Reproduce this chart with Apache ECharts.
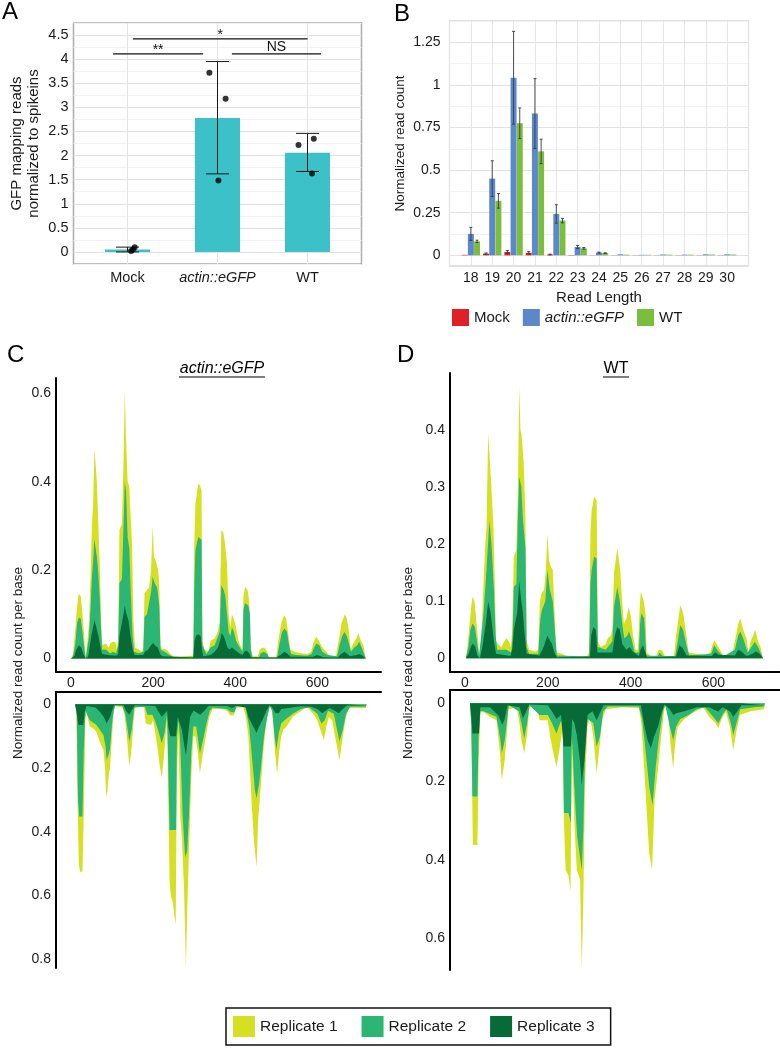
<!DOCTYPE html>
<html><head><meta charset="utf-8">
<script src="https://cdn.jsdelivr.net/npm/echarts@6/dist/echarts.min.js"></script>
<style>html,body{margin:0;padding:0;background:#fff}#c{width:780px;height:1048px}</style>
</head><body><div id="c"></div>
<script>
// ---------------- Panel A data ----------------
const aCategories = ['Mock', 'actin::eGFP', 'WT'];
const aMeans = [0.05, 2.78, 2.06];
const aErrLow = [0.0, 1.62, 1.67];
const aErrHigh = [0.10, 3.95, 2.46];
const aPointX = [0.04, 0.06, 0.08, 0.91, 1.09, 1.01, 1.90, 2.07, 2.05];
const aPointY = [0.02, 0.05, 0.10, 3.72, 3.18, 1.48, 2.22, 2.35, 1.63];
const aSigFrom = [0.06, -0.16, 1.16];
const aSigTo = [2.0, 0.84, 2.15];
const aSigY = [4.42, 4.11, 4.11];
const aSigLabel = ['*', '**', 'NS'];

// ---------------- Panel B data ----------------
const bLengths = [18, 19, 20, 21, 22, 23, 24, 25, 26, 27, 28, 29, 30];
const bGroups = ['Mock', 'actin::eGFP', 'WT'];
const bMock = [0.003, 0.01, 0.02, 0.015, 0.005, 0.002, 0.001, 0.001, 0.001, 0.001, 0.001, 0.001, 0.001];
const bMockSd = [0.001, 0.004, 0.009, 0.007, 0.002, 0, 0, 0, 0, 0, 0, 0, 0];
const bActin = [0.126, 0.45, 1.042, 0.832, 0.243, 0.049, 0.016, 0.006, 0.003, 0.005, 0.004, 0.006, 0.006];
const bActinSd = [0.038, 0.105, 0.272, 0.205, 0.054, 0.009, 0.003, 0.001, 0.001, 0.001, 0.001, 0.001, 0.001];
const bWt = [0.082, 0.32, 0.775, 0.61, 0.204, 0.041, 0.013, 0.004, 0.003, 0.004, 0.004, 0.005, 0.005];
const bWtSd = [0.007, 0.043, 0.09, 0.072, 0.013, 0.005, 0.002, 0.001, 0.001, 0.001, 0.001, 0.001, 0.001];

// ---------------- Panel C (actin::eGFP) coverage: [position, value] ----------------
const cSenseRep1 = [[0,0],[5,0.01],[10,0.06],[15,0.12],[19,0.147],[24,0.14],[28,0.10],[33,0.04],[36,0],[40,0],[44,0.08],[48,0.20],[51,0.30],[54,0.35],[57,0.475],[60,0.44],[63,0.40],[66,0.32],[70,0.215],[73,0.10],[76,0.03],[80,0.03],[85,0.034],[92,0.025],[97,0.036],[103,0.038],[108,0.037],[112,0.02],[115,0.05],[118,0.29],[124,0.305],[128,0.45],[131,0.607],[134,0.50],[138,0.40],[142,0.39],[146,0.39],[149,0.25],[152,0.087],[156,0.025],[165,0.02],[172,0.015],[176,0.02],[179,0.147],[185,0.155],[190,0.16],[195,0.20],[199,0.30],[202,0.23],[207,0.22],[212,0.20],[215,0.17],[218,0.03],[222,0.02],[228,0.022],[235,0.018],[242,0.01],[250,0.005],[270,0.005],[290,0.006],[298,0.006],[300,0.25],[303,0.35],[310,0.396],[315,0.39],[318,0.38],[320,0.04],[325,0.02],[335,0.015],[340,0.04],[350,0.045],[357,0.06],[362,0.08],[366,0.29],[371,0.285],[375,0.26],[380,0.215],[384,0.10],[388,0.07],[392,0.10],[396,0.09],[400,0.08],[404,0.06],[408,0.04],[412,0.03],[418,0.02],[420,0.14],[424,0.162],[430,0.155],[434,0.13],[437,0.03],[442,0.005],[455,0.005],[460,0.02],[465,0.024],[472,0.024],[478,0.015],[482,0.003],[500,0.002],[505,0.04],[512,0.08],[519,0.098],[524,0.09],[530,0.05],[534,0.02],[545,0.015],[560,0.012],[575,0.01],[585,0.015],[590,0.035],[597,0.049],[604,0.04],[612,0.025],[622,0.015],[630,0.005],[645,0.005],[652,0.04],[659,0.08],[667,0.10],[672,0.09],[677,0.06],[681,0.02],[688,0.035],[695,0.045],[700,0.057],[706,0.04],[712,0.03],[718,0]];
const cSenseRep2 = [[0,0],[5,0.005],[10,0.03],[15,0.08],[19,0.093],[24,0.09],[28,0.06],[33,0.02],[36,0],[40,0],[44,0.05],[48,0.12],[51,0.185],[54,0.22],[57,0.27],[60,0.25],[63,0.23],[66,0.20],[70,0.14],[73,0.07],[76,0.02],[85,0.02],[95,0.012],[103,0.015],[110,0.012],[115,0.03],[118,0.17],[124,0.18],[128,0.30],[131,0.40],[134,0.38],[138,0.275],[142,0.25],[146,0.14],[150,0.05],[154,0.015],[165,0.012],[176,0.015],[179,0.094],[185,0.10],[190,0.125],[195,0.15],[199,0.185],[204,0.17],[210,0.16],[215,0.12],[218,0.02],[228,0.015],[240,0.008],[250,0.003],[298,0.004],[300,0.15],[303,0.245],[310,0.275],[318,0.268],[320,0.03],[330,0.01],[340,0.025],[350,0.03],[358,0.05],[362,0.06],[366,0.166],[372,0.155],[376,0.14],[380,0.10],[384,0.06],[388,0.05],[392,0.07],[397,0.06],[402,0.04],[408,0.03],[414,0.02],[418,0.015],[420,0.11],[424,0.125],[432,0.12],[436,0.10],[438,0.02],[442,0.003],[458,0.003],[462,0.012],[470,0.015],[478,0.01],[482,0.002],[502,0.002],[507,0.03],[514,0.06],[520,0.068],[526,0.06],[532,0.025],[536,0.01],[550,0.008],[575,0.006],[586,0.01],[592,0.025],[598,0.034],[605,0.03],[612,0.015],[625,0.008],[648,0.005],[654,0.03],[660,0.05],[666,0.06],[672,0.05],[678,0.03],[682,0.015],[690,0.025],[697,0.03],[702,0.038],[708,0.025],[718,0]];
const cSenseRep3 = [[0,0],[8,0.005],[13,0.02],[19,0.03],[25,0.025],[30,0.01],[36,0],[42,0.005],[46,0.03],[50,0.053],[55,0.075],[57,0.087],[62,0.07],[67,0.05],[72,0.025],[76,0.01],[90,0.008],[110,0.006],[115,0.01],[118,0.05],[124,0.08],[128,0.10],[131,0.12],[135,0.10],[140,0.087],[145,0.05],[150,0.02],[155,0.008],[176,0.008],[180,0.015],[188,0.02],[195,0.03],[200,0.035],[206,0.028],[212,0.025],[217,0.01],[222,0.005],[298,0.002],[301,0.04],[305,0.052],[310,0.055],[316,0.05],[319,0.02],[322,0.005],[340,0.008],[350,0.015],[358,0.025],[363,0.04],[367,0.057],[372,0.05],[376,0.04],[381,0.025],[386,0.02],[392,0.025],[398,0.02],[405,0.015],[412,0.01],[418,0.008],[422,0.015],[428,0.018],[434,0.012],[438,0.003],[500,0.002],[510,0.008],[520,0.015],[528,0.01],[535,0.004],[590,0.004],[598,0.008],[605,0.006],[615,0.003],[650,0.002],[658,0.01],[666,0.015],[673,0.01],[680,0.005],[695,0.008],[703,0.01],[710,0.006],[718,0]];
const cAntiRep1 = [[10,0],[13,0.02],[16,0.30],[19,0.50],[22,0.525],[28,0.525],[31,0.35],[35,0.05],[38,0.02],[42,0.05],[46,0.07],[54,0.075],[62,0.086],[70,0.117],[79,0.143],[83,0.2],[86,0.29],[89,0.27],[92,0.22],[95,0.20],[99,0.12],[103,0.04],[106,0.005],[115,0.008],[125,0.01],[130,0.03],[136,0.10],[142,0.195],[147,0.15],[152,0.06],[156,0.01],[170,0.008],[178,0.01],[182,0.06],[195,0.065],[200,0.05],[204,0.08],[210,0.13],[216,0.19],[221,0.232],[226,0.17],[231,0.09],[234,0.05],[237,0.3],[240,0.55],[243,0.60],[248,0.62],[252,0.667],[255,0.69],[258,0.20],[262,0.09],[266,0.35],[270,0.42],[275,0.57],[278,0.72],[280,0.83],[283,0.65],[286,0.52],[290,0.35],[294,0.2],[298,0.10],[303,0.10],[308,0.14],[314,0.216],[320,0.164],[326,0.12],[331,0.08],[337,0.04],[345,0.015],[370,0.015],[380,0.02],[388,0.035],[396,0.035],[402,0.01],[420,0.01],[426,0.04],[432,0.10],[440,0.31],[446,0.436],[452,0.51],[456,0.36],[462,0.26],[468,0.154],[476,0.05],[483,0.01],[488,0.01],[492,0.05],[497,0.154],[502,0.216],[507,0.15],[512,0.10],[517,0.08],[525,0.07],[540,0.039],[558,0.023],[574,0.008],[590,0.03],[600,0.05],[610,0.09],[616,0.112],[622,0.07],[628,0.04],[636,0.05],[643,0.10],[654,0.175],[660,0.12],[668,0.05],[676,0.013],[690,0.012],[718,0.012],[720,0]];
const cAntiRep2 = [[10,0],[14,0.02],[17,0.30],[20,0.352],[28,0.352],[31,0.15],[35,0.02],[38,0.015],[46,0.05],[62,0.065],[79,0.096],[84,0.13],[87,0.175],[91,0.16],[95,0.14],[100,0.06],[104,0.02],[108,0.003],[125,0.005],[132,0.03],[138,0.08],[142,0.117],[148,0.08],[154,0.01],[180,0.008],[186,0.033],[198,0.033],[204,0.05],[212,0.08],[221,0.122],[228,0.09],[234,0.03],[237,0.20],[240,0.394],[256,0.394],[258,0.10],[262,0.05],[266,0.12],[272,0.35],[278,0.48],[283,0.46],[288,0.33],[293,0.15],[298,0.07],[305,0.07],[314,0.154],[322,0.11],[330,0.06],[338,0.02],[345,0.01],[380,0.015],[390,0.025],[398,0.025],[404,0.005],[424,0.005],[428,0.03],[434,0.07],[440,0.154],[448,0.27],[452,0.295],[458,0.25],[462,0.206],[470,0.10],[478,0.04],[484,0.005],[490,0.02],[496,0.10],[500,0.143],[506,0.09],[512,0.06],[520,0.05],[540,0.03],[560,0.015],[580,0.01],[600,0.03],[610,0.06],[618,0.05],[626,0.02],[640,0.03],[648,0.08],[654,0.117],[662,0.08],[670,0.03],[680,0.008],[718,0.008],[720,0]];
const cAntiRep3 = [[10,0],[14,0.03],[18,0.065],[30,0.065],[34,0.02],[38,0.005],[60,0.01],[70,0.023],[80,0.04],[87,0.06],[95,0.04],[100,0.02],[105,0.003],[128,0.003],[134,0.02],[142,0.033],[150,0.015],[156,0.003],[205,0.005],[212,0.02],[221,0.04],[228,0.03],[234,0.02],[237,0.07],[242,0.10],[256,0.10],[260,0.04],[264,0.04],[270,0.08],[276,0.13],[280,0.16],[285,0.10],[290,0.04],[298,0.02],[305,0.025],[315,0.033],[325,0.02],[335,0.005],[380,0.005],[392,0.012],[402,0.005],[426,0.01],[432,0.04],[440,0.06],[446,0.075],[452,0.09],[458,0.07],[466,0.05],[476,0.02],[484,0.003],[490,0.01],[498,0.028],[506,0.028],[512,0.015],[530,0.012],[560,0.006],[585,0.008],[600,0.015],[612,0.028],[620,0.02],[630,0.012],[642,0.02],[652,0.028],[662,0.015],[672,0.004],[718,0.004],[720,0]];

// ---------------- Panel D (WT) coverage: [position, value] ----------------
const dSenseRep1 = [[2,0],[6,0.02],[11,0.06],[15,0.09],[18,0.108],[23,0.10],[28,0.06],[33,0.02],[36,0],[38,0.01],[42,0.08],[45,0.137],[49,0.20],[52,0.23],[56,0.394],[59,0.36],[63,0.31],[66,0.27],[69,0.225],[73,0.10],[75,0.03],[80,0.025],[88,0.02],[95,0.03],[100,0.035],[106,0.03],[111,0.02],[114,0.05],[118,0.178],[124,0.19],[128,0.30],[131,0.476],[134,0.40],[137,0.39],[142,0.34],[146,0.25],[149,0.03],[155,0.015],[170,0.012],[177,0.015],[181,0.10],[185,0.114],[191,0.12],[195,0.15],[199,0.219],[203,0.172],[208,0.16],[212,0.155],[217,0.073],[221,0.01],[235,0.008],[242,0.005],[260,0.002],[295,0.004],[300,0.01],[303,0.22],[306,0.26],[312,0.283],[318,0.277],[321,0.03],[328,0.02],[340,0.025],[345,0.035],[352,0.04],[356,0.05],[360,0.15],[368,0.193],[375,0.155],[380,0.096],[384,0.06],[390,0.07],[395,0.09],[401,0.073],[406,0.04],[412,0.015],[418,0.015],[422,0.09],[425,0.117],[432,0.10],[436,0.08],[439,0.01],[450,0.003],[462,0.005],[468,0.015],[476,0.014],[483,0.004],[505,0.004],[510,0.04],[520,0.093],[527,0.08],[535,0.04],[540,0.01],[560,0.008],[580,0.005],[592,0.01],[602,0.032],[612,0.02],[624,0.005],[645,0.004],[652,0.03],[660,0.06],[665,0.07],[672,0.05],[680,0.035],[685,0.01],[690,0.03],[696,0.04],[701,0.05],[708,0.03],[714,0.02],[720,0]];
const dSenseRep2 = [[2,0],[8,0.02],[13,0.05],[18,0.061],[24,0.055],[29,0.03],[34,0.005],[38,0.005],[45,0.08],[52,0.155],[59,0.242],[64,0.2],[70,0.12],[74,0.04],[78,0.015],[100,0.015],[112,0.01],[115,0.04],[118,0.125],[124,0.13],[128,0.25],[131,0.318],[136,0.30],[140,0.242],[146,0.195],[149,0.02],[155,0.008],[177,0.008],[182,0.07],[186,0.085],[194,0.10],[199,0.155],[205,0.12],[212,0.10],[218,0.04],[222,0.005],[300,0.003],[303,0.13],[306,0.155],[312,0.178],[318,0.175],[321,0.02],[340,0.015],[356,0.03],[360,0.09],[368,0.125],[374,0.10],[380,0.06],[385,0.035],[392,0.04],[396,0.047],[402,0.035],[410,0.01],[420,0.01],[423,0.06],[426,0.079],[433,0.07],[438,0.005],[466,0.004],[470,0.01],[478,0.004],[508,0.004],[514,0.03],[520,0.058],[527,0.05],[536,0.02],[542,0.005],[595,0.008],[602,0.023],[612,0.012],[624,0.003],[652,0.015],[660,0.04],[665,0.047],[672,0.035],[683,0.01],[692,0.02],[700,0.029],[708,0.02],[720,0]];
const dSenseRep3 = [[2,0],[9,0.008],[15,0.022],[19,0.026],[25,0.02],[30,0.005],[36,0],[42,0.02],[50,0.06],[56,0.099],[62,0.08],[65,0.06],[70,0.03],[75,0.008],[110,0.004],[115,0.02],[118,0.05],[126,0.08],[131,0.134],[135,0.108],[140,0.08],[143,0.05],[149,0.008],[180,0.005],[190,0.02],[199,0.04],[206,0.03],[210,0.026],[216,0.01],[222,0.002],[302,0.003],[305,0.04],[310,0.055],[316,0.05],[320,0.01],[356,0.01],[362,0.04],[368,0.055],[374,0.05],[380,0.025],[390,0.015],[398,0.02],[405,0.012],[420,0.004],[424,0.015],[430,0.023],[436,0.01],[440,0.002],[510,0.003],[518,0.023],[526,0.018],[535,0.005],[596,0.004],[604,0.01],[612,0.006],[652,0.005],[660,0.015],[668,0.012],[680,0.004],[695,0.008],[703,0.012],[712,0.008],[720,0]];
const dAntiRep1 = [[12,0],[15,0.05],[17,0.20],[19,0.362],[30,0.362],[33,0.15],[37,0.03],[40,0.02],[48,0.025],[60,0.034],[76,0.043],[84,0.12],[89,0.196],[96,0.145],[101,0.08],[105,0.015],[125,0.01],[130,0.04],[136,0.09],[143,0.128],[150,0.08],[156,0.01],[176,0.01],[180,0.043],[200,0.043],[205,0.08],[212,0.12],[221,0.162],[228,0.12],[236,0.06],[239,0.30],[243,0.425],[250,0.44],[255,0.48],[258,0.10],[261,0.10],[264,0.30],[270,0.425],[278,0.45],[282,0.677],[286,0.50],[290,0.20],[296,0.06],[302,0.034],[310,0.085],[318,0.179],[324,0.12],[332,0.04],[340,0.015],[380,0.01],[420,0.012],[426,0.05],[437,0.238],[445,0.383],[452,0.425],[458,0.247],[466,0.17],[474,0.085],[482,0.01],[490,0.01],[496,0.10],[503,0.166],[508,0.10],[514,0.06],[530,0.04],[550,0.025],[575,0.01],[590,0.034],[605,0.05],[612,0.064],[620,0.04],[630,0.02],[640,0.06],[648,0.12],[656,0.07],[664,0.03],[690,0.02],[722,0.015],[725,0]];
const dAntiRep2 = [[12,0],[15,0.05],[18,0.238],[30,0.238],[33,0.08],[37,0.02],[45,0.02],[76,0.034],[85,0.09],[89,0.128],[96,0.094],[102,0.04],[106,0.005],[130,0.02],[138,0.06],[143,0.09],[150,0.05],[156,0.005],[180,0.03],[200,0.03],[210,0.05],[221,0.077],[230,0.05],[236,0.04],[239,0.28],[250,0.28],[256,0.306],[258,0.08],[262,0.08],[266,0.25],[271,0.34],[282,0.425],[286,0.32],[290,0.12],[296,0.04],[310,0.05],[318,0.11],[326,0.085],[334,0.02],[345,0.008],[420,0.008],[428,0.04],[437,0.128],[445,0.213],[453,0.26],[461,0.16],[469,0.085],[478,0.02],[484,0.005],[495,0.06],[503,0.094],[510,0.06],[520,0.04],[540,0.03],[560,0.015],[580,0.01],[600,0.035],[612,0.051],[622,0.03],[632,0.015],[642,0.05],[648,0.081],[656,0.05],[665,0.015],[700,0.01],[722,0.008],[725,0]];
const dAntiRep3 = [[12,0],[15,0.03],[18,0.077],[34,0.077],[37,0.01],[60,0.01],[80,0.03],[90,0.055],[96,0.04],[103,0.005],[132,0.01],[140,0.038],[148,0.02],[155,0.003],[200,0.005],[210,0.02],[221,0.04],[232,0.03],[238,0.11],[256,0.11],[259,0.04],[264,0.05],[270,0.08],[278,0.15],[282,0.208],[290,0.13],[296,0.03],[308,0.02],[318,0.043],[326,0.025],[335,0.005],[425,0.005],[432,0.05],[441,0.094],[449,0.115],[457,0.085],[466,0.06],[476,0.02],[482,0.003],[495,0.015],[503,0.03],[512,0.025],[530,0.02],[560,0.01],[590,0.01],[604,0.018],[612,0.021],[622,0.01],[640,0.02],[648,0.034],[658,0.02],[668,0.005],[722,0.005],[725,0]];

const replicateNames = ['Replicate 1', 'Replicate 2', 'Replicate 3'];
const cTicksX = [0, 200, 400, 600];
const cTicksSense = [0, 0.2, 0.4, 0.6];
const cTicksAnti = [0, 0.2, 0.4, 0.6, 0.8];
const dTicksSense = [0, 0.1, 0.2, 0.3, 0.4];
const dTicksAnti = [0, 0.2, 0.4, 0.6];

// ---------------- styles ----------------
const FONT = '"Liberation Sans", Arial, sans-serif';
const repColors = ['#D6E023', '#2BB673', '#076B37'];
const bColors = ['#E01F26', '#5D87CB', '#7BBE3D'];
const barA = '#3CC1C8';
const TXT = '#1a1a1a';

const chart = echarts.init(document.getElementById('c'), null, {renderer: 'canvas'});

function areaSeries(sets, idx) {
  return sets.map((d, k) => ({
    type: 'line', name: replicateNames[k], xAxisIndex: idx, yAxisIndex: idx,
    data: d, symbol: 'none', showSymbol: false, silent: true,
    color: repColors[k], lineStyle: {width: 0},
    areaStyle: {color: repColors[k], opacity: 1}, z: 2 + k
  }));
}

function bSeries(name, vals, sds, off, color) {
  return {
    type: 'custom', name: name, xAxisIndex: 1, yAxisIndex: 1,
    itemStyle: {color: color}, color: color,
    data: bLengths.map((L, i) => [L, vals[i], sds[i]]),
    renderItem: function (params, api) {
      const x = api.value(0) + off, v = api.value(1), sd = api.value(2);
      const hw = 0.14;
      const tl = api.coord([x - hw, v]);
      const br = api.coord([x + hw, 0]);
      const children = [{type: 'rect', shape: {x: tl[0], y: tl[1], width: br[0] - tl[0], height: br[1] - tl[1]},
        style: {fill: color}}];
      if (sd > 0.0015) {
        const hi = api.coord([x, v + sd]), lo = api.coord([x, Math.max(0, v - sd)]);
        const cw = 1.5;
        const st = {stroke: '#3a3a3a', lineWidth: 0.9};
        children.push({type: 'line', shape: {x1: hi[0], y1: hi[1], x2: lo[0], y2: lo[1]}, style: st});
        children.push({type: 'line', shape: {x1: hi[0] - cw, y1: hi[1], x2: hi[0] + cw, y2: hi[1]}, style: st});
        children.push({type: 'line', shape: {x1: lo[0] - cw, y1: lo[1], x2: lo[0] + cw, y2: lo[1]}, style: st});
      }
      return {type: 'group', children: children};
    }
  };
}

const cAxisLine = {show: true, onZero: false, lineStyle: {color: '#000', width: 2}};

const option = {
  animation: false,
  textStyle: {fontFamily: FONT},
  grid: [
    {left: 73.5, top: 23, width: 288, height: 241, show: true, borderColor: '#ABABAB', borderWidth: 1.5, backgroundColor: '#fff'},
    {left: 449.5, top: 21, width: 299, height: 245, show: true, borderColor: '#C4C4C4', borderWidth: 1.2, backgroundColor: '#fff'},
    {left: 56, top: 378, width: 325, height: 293.7},
    {left: 56, top: 691.7, width: 325, height: 276.3},
    {left: 450, top: 373, width: 330, height: 298.7},
    {left: 450, top: 690, width: 330, height: 280}
  ],
  xAxis: [
    {type: 'value', gridIndex: 0, min: -0.6, max: 2.6, interval: 0.2,
      axisLine: {show: false}, axisTick: {show: false},
      axisLabel: {margin: 6, fontSize: 14.5, color: TXT, fontFamily: FONT,
        formatter: function (v) { const i = Math.round(v); if (Math.abs(v - i) > 1e-6 || i < 0 || i > 2) return ''; return i === 1 ? '{it|' + aCategories[i] + '}' : aCategories[i]; },
        rich: {it: {fontStyle: 'italic', fontSize: 14.5, color: TXT, fontFamily: FONT}}},
      splitLine: {show: true, lineStyle: {width: 1, color: ['rgba(0,0,0,0)', 'rgba(0,0,0,0)', 'rgba(0,0,0,0)', '#E4E4E4', 'rgba(0,0,0,0)']}}},
    {type: 'value', gridIndex: 1, min: 17, max: 31, interval: 1,
      axisLine: {show: false}, axisTick: {show: false},
      axisLabel: {margin: 5, fontSize: 14, color: TXT, fontFamily: FONT, formatter: function (v) { return (v < 18 || v > 30) ? '' : String(v); }},
      splitLine: {show: true, lineStyle: {color: '#E6E6E6', width: 1}},
      name: 'Read Length', nameLocation: 'middle', nameGap: 24,
      nameTextStyle: {fontSize: 15, color: TXT, fontFamily: FONT}},
    {type: 'value', gridIndex: 2, min: -36.5, max: 755, axisLine: cAxisLine, axisTick: {show: false},
      axisLabel: {customValues: cTicksX, margin: 4, fontSize: 14, color: TXT, fontFamily: FONT}, splitLine: {show: false}},
    {type: 'value', gridIndex: 3, position: 'top', min: -36.5, max: 755, axisLine: cAxisLine, axisTick: {show: false},
      axisLabel: {show: false}, splitLine: {show: false}},
    {type: 'value', gridIndex: 4, min: -36.2, max: 761, axisLine: cAxisLine, axisTick: {show: false},
      axisLabel: {customValues: cTicksX, margin: 4, fontSize: 14, color: TXT, fontFamily: FONT}, splitLine: {show: false}},
    {type: 'value', gridIndex: 5, position: 'top', min: -36.2, max: 761, axisLine: cAxisLine, axisTick: {show: false},
      axisLabel: {show: false}, splitLine: {show: false}}
  ],
  yAxis: [
    {type: 'value', gridIndex: 0, min: -0.25, max: 4.75, interval: 0.25,
      axisLine: {show: false}, axisTick: {show: false},
      axisLabel: {margin: 5, fontSize: 14.5, color: TXT, fontFamily: FONT,
        formatter: function (v) { return (v >= 0 && Math.abs(v * 2 - Math.round(v * 2)) < 1e-6) ? String(+v.toFixed(2)) : ''; }},
      splitLine: {show: true, lineStyle: {width: 1, color: ['#F1F1F1', '#E2E2E2']}},
      name: 'GFP mapping reads\nnormalized to spikeins', nameLocation: 'middle', nameGap: 31,
      nameTextStyle: {fontSize: 15, lineHeight: 17, color: TXT, fontFamily: FONT}},
    {type: 'value', gridIndex: 1, min: -0.0625, max: 1.375, interval: 0.0625,
      axisLine: {show: false}, axisTick: {show: false},
      axisLabel: {margin: 9, fontSize: 14, color: TXT, fontFamily: FONT,
        formatter: function (v) { return (v >= 0 && Math.abs(v * 4 - Math.round(v * 4)) < 1e-6) ? String(+v.toFixed(2)) : ''; }},
      splitLine: {show: true, lineStyle: {width: 1, color: ['rgba(0,0,0,0)', '#E2E2E2', 'rgba(0,0,0,0)', '#F1F1F1']}},
      name: 'Normalized read count', nameLocation: 'middle', nameGap: 42,
      nameTextStyle: {fontSize: 13.5, color: TXT, fontFamily: FONT}},
    {type: 'value', gridIndex: 2, min: -0.03, max: 0.635, axisLine: cAxisLine, axisTick: {show: false},
      axisLabel: {customValues: cTicksSense, margin: 5, fontSize: 14, color: TXT, fontFamily: FONT}, splitLine: {show: false}},
    {type: 'value', gridIndex: 3, inverse: true, min: -0.0395, max: 0.827, axisLine: cAxisLine, axisTick: {show: false},
      axisLabel: {customValues: cTicksAnti, margin: 5, fontSize: 14, color: TXT, fontFamily: FONT}, splitLine: {show: false}},
    {type: 'value', gridIndex: 4, min: -0.0235, max: 0.5, axisLine: cAxisLine, axisTick: {show: false},
      axisLabel: {customValues: dTicksSense, margin: 5, fontSize: 14, color: TXT, fontFamily: FONT}, splitLine: {show: false}},
    {type: 'value', gridIndex: 5, inverse: true, min: -0.034, max: 0.681, axisLine: cAxisLine, axisTick: {show: false},
      axisLabel: {customValues: dTicksAnti, margin: 5, fontSize: 14, color: TXT, fontFamily: FONT}, splitLine: {show: false}}
  ],
  legend: [
    {data: bGroups, left: 452, top: 309, orient: 'horizontal', icon: 'rect', itemWidth: 17, itemHeight: 17, itemGap: 13,
      selectedMode: false, padding: 0,
      textStyle: {fontSize: 15, color: TXT, fontFamily: FONT, rich: {i: {fontStyle: 'italic', fontSize: 15, color: TXT, fontFamily: FONT}}},
      formatter: function (n) { return n === 'actin::eGFP' ? '{i|' + n + '}' : n; }},
    {data: replicateNames, left: 226, top: 1008, orient: 'horizontal', icon: 'rect', itemWidth: 22, itemHeight: 21, itemGap: 24,
      selectedMode: false, padding: [8, 16, 8, 7], borderColor: '#111', borderWidth: 1.5,
      textStyle: {fontSize: 15.5, color: TXT, fontFamily: FONT}}
  ],
  series: [
    {type: 'bar', xAxisIndex: 0, yAxisIndex: 0, barWidth: 45, silent: true,
      itemStyle: {color: barA}, data: aMeans.map((v, i) => [i, v]), z: 3},
    {type: 'custom', xAxisIndex: 0, yAxisIndex: 0, silent: true, z: 4,
      data: aCategories.map((c, i) => [i, aErrLow[i], aErrHigh[i]]),
      renderItem: function (params, api) {
        const x = api.value(0);
        const lo = api.coord([x, api.value(1)]), hi = api.coord([x, api.value(2)]);
        const hw = 11.5, st = {stroke: '#1a1a1a', lineWidth: 1};
        return {type: 'group', children: [
          {type: 'line', shape: {x1: lo[0], y1: lo[1], x2: hi[0], y2: hi[1]}, style: st},
          {type: 'line', shape: {x1: lo[0] - hw, y1: lo[1], x2: lo[0] + hw, y2: lo[1]}, style: st},
          {type: 'line', shape: {x1: hi[0] - hw, y1: hi[1], x2: hi[0] + hw, y2: hi[1]}, style: st}
        ]};
      }},
    {type: 'scatter', xAxisIndex: 0, yAxisIndex: 0, silent: true, z: 5, symbolSize: 6,
      itemStyle: {color: '#000'}, data: aPointX.map((x, i) => [x, aPointY[i]])},
    {type: 'custom', xAxisIndex: 0, yAxisIndex: 0, silent: true, z: 5,
      data: aSigLabel.map((l, i) => [aSigFrom[i], aSigTo[i], aSigY[i], i]),
      renderItem: function (params, api) {
        const a = api.coord([api.value(0), api.value(2)]), b = api.coord([api.value(1), api.value(2)]);
        const lab = aSigLabel[api.value(3)];
        return {type: 'group', children: [
          {type: 'line', shape: {x1: a[0], y1: a[1], x2: b[0], y2: b[1]}, style: {stroke: '#111', lineWidth: 1.1}},
          {type: 'text', x: (a[0] + b[0]) / 2, y: a[1] + (lab === 'NS' ? 0 : 3),
            style: {text: lab, fill: '#111', font: '14px ' + FONT, textAlign: 'center', textVerticalAlign: 'bottom'}}
        ]};
      }},
    bSeries('Mock', bMock, bMockSd, -0.29, bColors[0]),
    bSeries('actin::eGFP', bActin, bActinSd, 0, bColors[1]),
    bSeries('WT', bWt, bWtSd, 0.29, bColors[2])
  ].concat(
    areaSeries([cSenseRep1, cSenseRep2, cSenseRep3], 2),
    areaSeries([cAntiRep1, cAntiRep2, cAntiRep3], 3),
    areaSeries([dSenseRep1, dSenseRep2, dSenseRep3], 4),
    areaSeries([dAntiRep1, dAntiRep2, dAntiRep3], 5)
  ),
  graphic: [
    {type: 'text', left: 2, top: 0, style: {text: 'A', font: '24px ' + FONT, fill: '#000'}},
    {type: 'text', left: 394, top: 2, style: {text: 'B', font: '24px ' + FONT, fill: '#000'}},
    {type: 'text', left: 7, top: 343, style: {text: 'C', font: '24px ' + FONT, fill: '#000'}},
    {type: 'text', left: 397, top: 343, style: {text: 'D', font: '24px ' + FONT, fill: '#000'}},
    {type: 'text', x: 222, y: 369, style: {text: 'actin::eGFP', font: 'italic 16px ' + FONT, fill: '#000', textAlign: 'center', textVerticalAlign: 'middle'}},
    {type: 'line', shape: {x1: 179, y1: 377, x2: 265, y2: 377}, style: {stroke: '#000', lineWidth: 1}},
    {type: 'text', x: 616, y: 369, style: {text: 'WT', font: '16px ' + FONT, fill: '#000', textAlign: 'center', textVerticalAlign: 'middle'}},
    {type: 'line', shape: {x1: 603, y1: 377, x2: 629, y2: 377}, style: {stroke: '#000', lineWidth: 1}},
    {type: 'text', x: 18, y: 663, rotation: Math.PI / 2, style: {text: 'Normalized read count per base', font: '13.5px ' + FONT, fill: TXT, textAlign: 'center', textVerticalAlign: 'middle'}},
    {type: 'text', x: 408, y: 663, rotation: Math.PI / 2, style: {text: 'Normalized read count per base', font: '13.5px ' + FONT, fill: TXT, textAlign: 'center', textVerticalAlign: 'middle'}}
  ]
};
chart.setOption(option);
</script></body></html>
